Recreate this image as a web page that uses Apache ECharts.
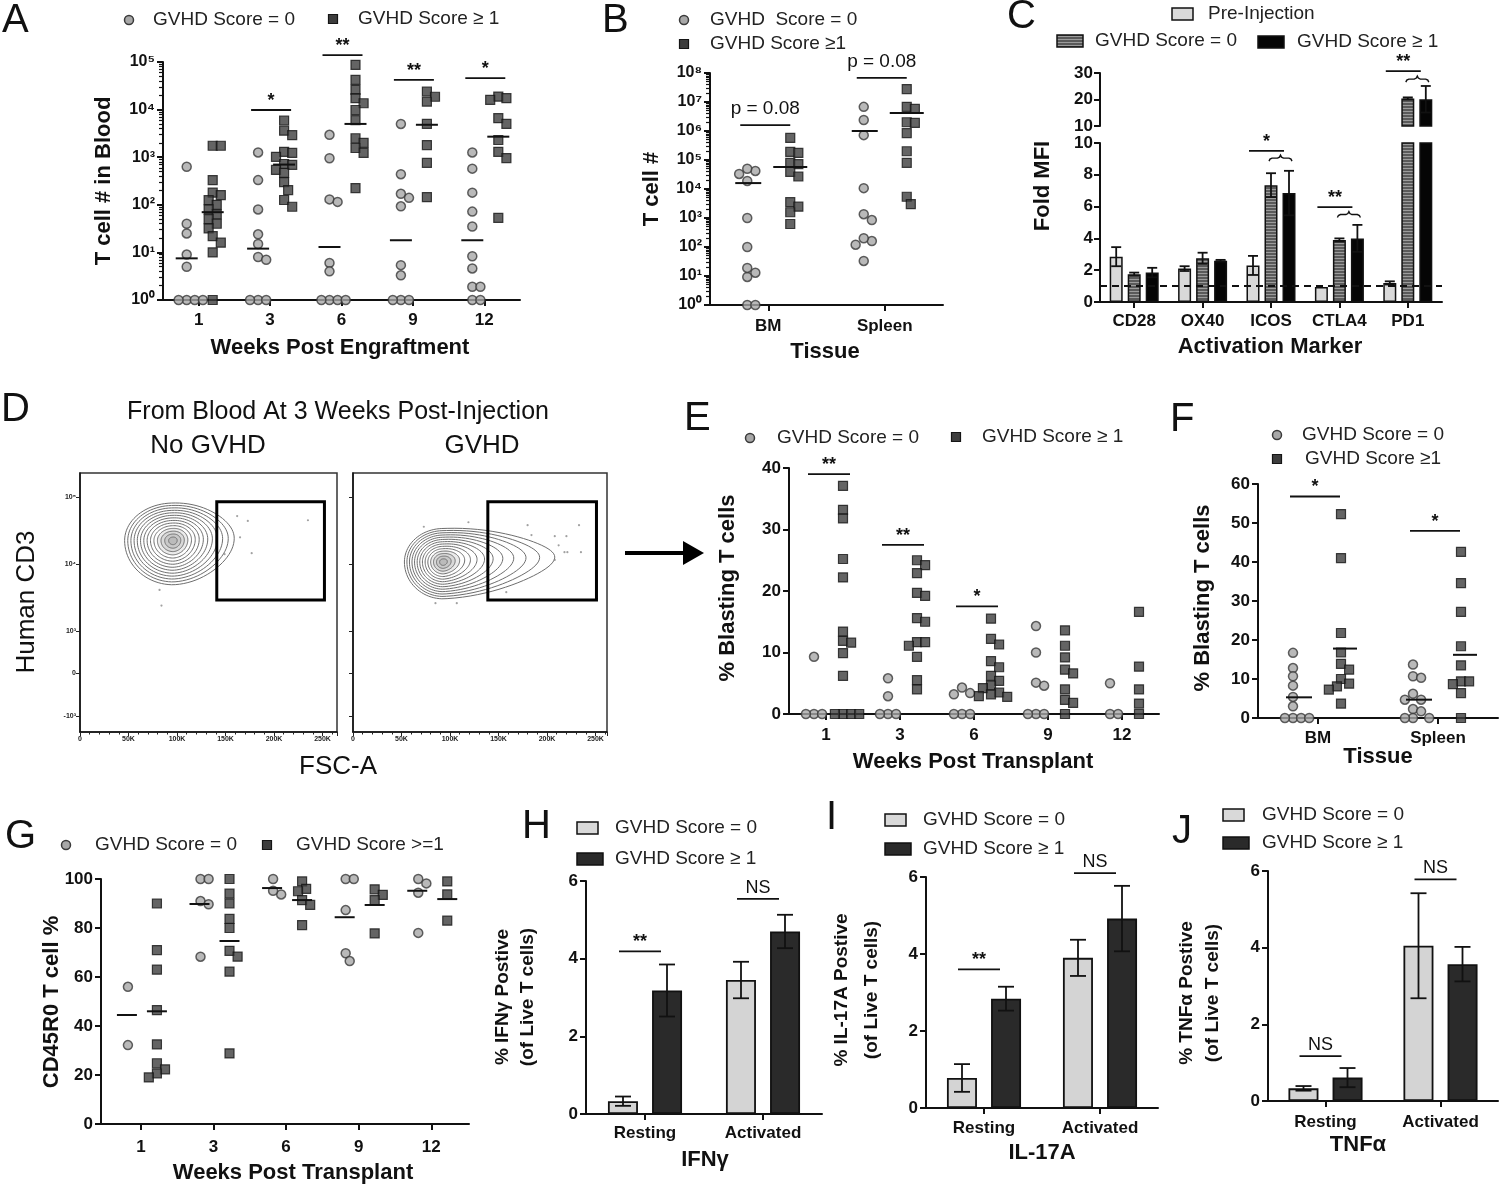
<!DOCTYPE html>
<html><head><meta charset="utf-8">
<script src="https://cdn.jsdelivr.net/npm/echarts@6/dist/echarts.min.js"></script>
<style>html,body{margin:0;padding:0;background:#fff}#c{width:1500px;height:1191px}</style>
</head><body><div id="c"></div>
<script>
// ================= DATA =================
const weekLabels = ['1', '3', '6', '9', '12'];
const tissueLabels = ['BM', 'Spleen'];
const markerLabels = ['CD28', 'OX40', 'ICOS', 'CTLA4', 'PD1'];
const stateLabels = ['Resting', 'Activated'];

// A: T cell # in blood (0 plotted at 10^0)
const aScore0 = [
  [630, 40, 25, 9, 5, 1, 1, 1, 1],
  [1260, 330, 80, 24, 15, 8, 7, 1, 1, 1],
  [2950, 950, 130, 115, 6, 4, 1, 1, 1, 1],
  [5000, 440, 170, 140, 93, 5.4, 3.3, 1, 1, 1],
  [1260, 575, 180, 72, 35, 8.3, 4.6, 1.9, 1.9, 1, 1]
];
const aScore1 = [
  [1740, 1740, 330, 180, 160, 125, 100, 80, 63, 50, 40, 32, 22, 16, 10, 1],
  [5900, 3600, 2900, 1300, 1230, 1020, 720, 690, 540, 470, 300, 204, 126, 91],
  [87000, 42000, 26000, 17500, 13600, 9800, 6000, 2500, 2000, 1560, 1230, 225],
  [24000, 18600, 14700, 5000, 1800, 760, 145],
  [18700, 17400, 16000, 6600, 5000, 2300, 1300, 960, 53]
];
const aMean0 = [7.5, 12, 13, 18, 18];
const aMean1 = [70, 700, 5000, 4800, 2700];
const aSig = [[1, 9800, '*'], [2, 140000, '**'], [3, 42000, '**'], [4, 46000, '*']];

// B: T cell # by tissue
const bScore0 = [
  [42000, 50000, 33000, 19000, 1000, 100, 13, 9.3, 19, 1, 1],
  [6800000, 2400000, 720000, 10700, 1350, 850, 160, 200, 120, 33]
];
const bScore1 = [
  [575000, 190000, 175000, 80000, 72000, 39000, 27000, 3500, 2450, 1580, 620],
  [28000000, 6800000, 5750000, 2000000, 1900000, 850000, 200000, 80000, 5400, 3000]
];
const bMean0 = [16000, 1000000];
const bMean1 = [57000, 4200000];
const bSig = [[0, 1600000, 'p = 0.08'], [1, 68000000, 'p = 0.08']];

// C: fold MFI of activation markers
const cPre = [2.85, 2.1, 2.3, 0.95, 1.2];
const cPreErr = [0.6, 0.15, 0.6, 0, 0.1];
const cScore0 = [1.75, 2.75, 7.35, 3.9, 20.4];
const cScore0Err = [0.1, 0.35, 0.75, 0.1, 0.4];
const cScore1 = [1.85, 2.6, 6.85, 4.0, 20.1];
const cScore1Err = [0.3, 0.05, 1.4, 0.85, 5.0];
const cBaseline = 1;
const cSig = [[2, 9.5, 9.05, '*'], [3, 5.97, 5.5, '**'], [4, 30.7, 27.7, '**']]; // [marker, bar, brace, label]

// D: flow cytometry (FSC in K, CD3 raw)
const dCd3Ticks = [-1000, 0, 1000, 10000, 100000];
const dCd3TickLabels = ['-10³', '0', '10³', '10⁴', '10⁵'];
// population: [FSC centre, log10 CD3 centre, FSC spread left, FSC spread right, right tail, decades up, decades down]
const dPopNoGvhd = [96, 4.35, 50, 45, 18, 0.56, 0.66];
const dPopGvhd = [93, 4.03, 40, 45, 70, 0.5, 0.55];
const dEventsNoGvhd = [[162, 52000], [173, 44000], [165, 25000], [149, 14000], [177, 14500], [235, 45000], [82, 4100], [84, 2400]];
const dEventsGvhd = [[119, 42000], [73, 36000], [180, 38000], [208, 26000], [220, 26000], [233, 38000], [212, 19000], [218, 15000], [235, 15000], [208, 11500], [158, 3800], [85, 2600], [107, 2600], [184, 27000], [221, 15000]];
const dGates = [[141, 252, 2900, 85000], [139, 251, 2900, 85000]];

// E: % blasting T cells in blood
const eScore0 = [[9.3, 0, 0, 0], [5.8, 2.9, 0, 0, 0], [4.3, 3.2, 3.4, 0, 0, 0], [14.3, 10, 5.1, 4.6, 0, 0, 0], [5.0, 0, 0]];
const eScore1 = [
  [37.1, 33.2, 31.8, 25.2, 22.2, 13.4, 11.9, 11.6, 9.9, 6.2, 0, 0, 0, 0],
  [25, 24.2, 22.9, 19.7, 19.2, 15.6, 15, 11.7, 11.7, 11.1, 9.3, 5.5, 4.0],
  [15.5, 12.2, 11.3, 8.6, 7.6, 6.2, 5.4, 4.6, 4.2, 3.5, 3.2, 2.9, 2.8],
  [13.6, 11.1, 9.2, 7.2, 6.6, 4.0, 2.3, 1.8, 0],
  [16.6, 7.7, 4.0, 1.7, 0]
];
const eSig = [[0, 39, '**'], [1, 27.5, '**'], [2, 17.5, '*']];

// F: % blasting T cells by tissue
const fScore0 = [[16.7, 12.8, 10.7, 8.3, 5.4, 3.0, 0, 0, 0, 0], [13.7, 10.7, 10.3, 6.2, 4.7, 4.7, 2.3, 1.7, 0, 0, 0]];
const fScore1 = [[52.3, 41, 21.8, 16.8, 13.9, 12.4, 10, 8.8, 8.1, 7.3, 3.7], [42.6, 34.6, 27.2, 18.4, 13.5, 9.4, 9.4, 8.7, 6.4, 0]];
const fMean0 = [5.3, 4.7];
const fMean1 = [17.8, 16.2];
const fSig = [[0, 56.8, '*'], [1, 48, '*']];

// G: CD45R0 T cell %
const gScore0 = [[56, 32.2], [100, 100, 91, 89.7, 68.3], [100, 93.7, 95.2], [100, 100, 87.3, 69.7, 66.5], [100, 98.2, 94.4, 78]];
const gScore1 = [[90, 71, 63, 46.5, 32.5, 24.8, 22.3, 20.7, 19], [100, 94, 90, 83.7, 80, 70.7, 68.3, 62.2, 28.8], [99, 96, 95, 91.4, 89.4, 81.2], [95.8, 93.5, 91.4, 77.8], [99, 93.7, 83]];
const gMean0 = [44.5, 89.8, 96.3, 84.4, 95.2];
const gMean1 = [46, 74.7, 91.4, 89.4, 91.8];

// H, I, J: cytokine positive %
const hScore0 = [0.33, 3.45], hScore0Err = [0.12, 0.47], hScore1 = [3.18, 4.7], hScore1Err = [0.67, 0.43];
const hSig = [[0, 4.19, '**'], [1, 5.54, 'NS']];
const iScore0 = [0.78, 3.9], iScore0Err = [0.36, 0.47], iScore1 = [2.84, 4.92], iScore1Err = [0.31, 0.85];
const iSig = [[0, 3.6, '**'], [1, 6.1, 'NS']];
const jScore0 = [0.33, 4.05], jScore0Err = [0.06, 1.37], jScore1 = [0.61, 3.57], jScore1Err = [0.25, 0.45];
const jSig = [[0, 1.17, 'NS'], [1, 5.78, 'NS']];

// ================= BUILD =================
const FONT = "'Liberation Sans', Arial, Helvetica, sans-serif";
const INK = '#111';
const SUP = ['⁰', '¹', '²', '³', '⁴', '⁵', '⁶', '⁷', '⁸', '⁹'];
const lg = v => Math.log10(Math.max(v, 1));
const lin = v => v;
function cd3T(v) {
  if (v >= 1000) return 101 + (Math.log10(v) - 3) * 67;
  if (v <= -1000) return 16 - (Math.log10(-v) - 3) * 67;
  return 59 + v / 1000 * 42.5;
}

const grids = [], xAxis = [], yAxis = [], series = [], graphic = [];

function panel(box, xCfg, yCfg, frame) {
  const gi = grids.length;
  const g = Object.assign({outerBoundsMode: 'none', containLabel: false}, box);
  if (frame) Object.assign(g, {show: true, borderColor: '#333', borderWidth: 1.5, backgroundColor: 'rgba(0,0,0,0)'});
  grids.push(g);
  const xi = xAxis.length; xAxis.push(Object.assign({gridIndex: gi}, xCfg));
  const yi = yAxis.length; yAxis.push(Object.assign({gridIndex: gi, position: 'left'}, yCfg));
  return {gi, xi, yi, box};
}
const lineAx = w => ({show: true, onZero: false, lineStyle: {color: INK, width: w || 2}});
const tickAx = (len, w) => ({show: true, length: len || 6, lineStyle: {color: INK, width: w || 2}});
const labAx = (margin, fs) => ({show: true, margin, color: INK, fontFamily: FONT, fontWeight: 'bold', fontSize: fs || 17});

function catValX(labels, margin, min, max) {
  const t = labels.map((_, i) => i);
  return {type: 'value', min: min, max: max, axisLine: lineAx(2),
    axisTick: Object.assign(tickAx(6), {customValues: t}),
    axisLabel: Object.assign(labAx(margin), {customValues: t, formatter: v => labels[Math.round(v)]}),
    splitLine: {show: false}};
}
function linY(min, max, interval, margin) {
  return {type: 'value', min, max, interval, axisLine: lineAx(2), axisTick: tickAx(6), axisLabel: labAx(margin), splitLine: {show: false}};
}
function logY(maxExp, margin) {
  return {type: 'value', min: 0, max: maxExp, interval: 1, axisLine: lineAx(2), axisTick: tickAx(6),
    axisLabel: Object.assign(labAx(margin, 16), {formatter: v => '10' + SUP[Math.round(v)]}), splitLine: {show: false}};
}
function addMinorLog(p, maxExp) {
  const vals = [];
  for (let e = 0; e < maxExp; e++) for (let k = 2; k <= 9; k++) vals.push(e + Math.log10(k));
  yAxis.push({gridIndex: p.gi, type: 'value', position: 'left', offset: 0, min: 0, max: maxExp,
    axisLine: {show: false, onZero: false},
    axisLabel: {show: false}, splitLine: {show: false},
    axisTick: {show: true, length: 4, customValues: vals, lineStyle: {color: INK, width: 1.2}}});
}

function swarm(vals, cat, offPx, box, xr, yr, tf, d) {
  const ppx = box.width / (xr[1] - xr[0]), ppy = box.height / (yr[1] - yr[0]);
  const items = vals.map(v => ({v, yp: tf(v) * ppy}));
  const order = items.slice().sort((a, b) => b.yp - a.yp);
  const placed = [], minD = d * 0.9, step = d * 0.45;
  for (const it of order) {
    let best = 0;
    outer: for (let k = 0; k < 60; k++) {
      const cands = k === 0 ? [0] : [k * step, -k * step];
      for (const cx of cands) {
        if (placed.every(p => Math.hypot(p.xp - cx, p.yp - it.yp) >= minD)) { best = cx; break outer; }
      }
    }
    it.xp = best; placed.push(it);
  }
  return items.map(it => [cat + (offPx + it.xp) / ppx, tf(it.v)]);
}
function dots(p, data, kind, size) {
  series.push({type: 'scatter', xAxisIndex: p.xi, yAxisIndex: p.yi, data, symbol: kind === 'c' ? 'circle' : 'rect',
    symbolSize: size || 9, silent: true, z: 3,
    itemStyle: kind === 'c' ? {color: '#a8a8a8', borderColor: '#3a3a3a', borderWidth: 1.5} : {color: '#3d3d3d', borderColor: '#151515', borderWidth: 1.2}});
}
function groupDots(p, groups, kind, offPx, xr, yr, tf) {
  let all = [];
  groups.forEach((vals, i) => { all = all.concat(swarm(vals, i, offPx, p.box, xr, yr, tf, 9)); });
  dots(p, all, kind);
}
function means(p, vals, offPx, hw, tf) {
  series.push({type: 'custom', xAxisIndex: p.xi, yAxisIndex: p.yi, silent: true, z: 5,
    data: vals.map((v, i) => [i, tf(v)]),
    renderItem: (params, api) => {
      const c = api.coord([api.value(0), api.value(1)]); const x = c[0] + offPx;
      return {type: 'line', shape: {x1: x - hw, y1: c[1], x2: x + hw, y2: c[1]}, style: {stroke: INK, lineWidth: 2}};
    }});
}
function sigs(p, arr, tf, hw, dx, font, gap) {
  series.push({type: 'custom', xAxisIndex: p.xi, yAxisIndex: p.yi, silent: true, z: 5, clip: false,
    data: arr.map(s => [s[0], tf(s[1])]),
    renderItem: (params, api) => {
      const c = api.coord([api.value(0), api.value(1)]); const x = c[0] + dx;
      const lab = arr[params.dataIndex][2];
      return {type: 'group', children: [
        {type: 'line', shape: {x1: x - hw, y1: c[1], x2: x + hw, y2: c[1]}, style: {stroke: INK, lineWidth: 1.8}},
        {type: 'text', x: x, y: c[1] - gap, style: {text: lab, font, fill: INK, align: 'center', textAlign: 'center', verticalAlign: 'middle', textVerticalAlign: 'middle'}}
      ]};
    }});
}
function bars(p, vals, itemStyle, width, gap) {
  series.push({type: 'bar', xAxisIndex: p.xi, yAxisIndex: p.yi, data: vals, barWidth: width, barGap: gap,
    itemStyle, clip: true, silent: true, z: 2});
}
function errs(p, vals, errsArr, offPx, capHw, filterFn) {
  const data = [];
  vals.forEach((v, i) => { if (v !== '-' && errsArr[i] > 0 && (!filterFn || filterFn(i))) data.push([i, v, errsArr[i]]); });
  series.push({type: 'custom', xAxisIndex: p.xi, yAxisIndex: p.yi, silent: true, z: 4, clip: true, data,
    renderItem: (params, api) => {
      const c = api.value(0), v = api.value(1), e = api.value(2);
      const t = api.coord([c, v + e]), b = api.coord([c, v - e]); const x = t[0] + offPx;
      const st = {stroke: INK, lineWidth: 1.8};
      return {type: 'group', children: [
        {type: 'line', shape: {x1: x, y1: t[1], x2: x, y2: b[1]}, style: st},
        {type: 'line', shape: {x1: x - capHw, y1: t[1], x2: x + capHw, y2: t[1]}, style: st},
        {type: 'line', shape: {x1: x - capHw, y1: b[1], x2: x + capHw, y2: b[1]}, style: st}]};
    }});
}

// hatched fill
const pc = document.createElement('canvas'); pc.width = 4; pc.height = 3;
const pctx = pc.getContext('2d'); pctx.fillStyle = '#5a5a5a'; pctx.fillRect(0, 0, 4, 3);
pctx.fillStyle = '#9c9c9c'; pctx.fillRect(0, 0, 4, 1);
const HATCH = {image: pc, repeat: 'repeat'};

// ---------- Panel A ----------
const boxA = {left: 163, top: 62, width: 357, height: 238};
const pA = panel(boxA, catValX(weekLabels, 12, -0.5, 4.5), logY(5, 8));
addMinorLog(pA, 5);
groupDots(pA, aScore0, 'c', -12, [-0.5, 4.5], [0, 5], lg);
groupDots(pA, aScore1, 's', 14, [-0.5, 4.5], [0, 5], lg);
means(pA, aMean0, -12, 11, lg); means(pA, aMean1, 14, 11, lg);
sigs(pA, aSig, lg, 20, 1, 'bold 18px ' + FONT, 9);

// ---------- Panel B ----------
const boxB = {left: 710, top: 73, width: 233, height: 232};
const pB = panel(boxB, catValX(tissueLabels, 13, -0.5, 1.5), logY(8, 8));
addMinorLog(pB, 8);
groupDots(pB, bScore0, 'c', -21, [-0.5, 1.5], [0, 8], lg);
groupDots(pB, bScore1, 's', 22, [-0.5, 1.5], [0, 8], lg);
means(pB, bMean0, -20, 13, lg); means(pB, bMean1, 22, 17, lg);
sigs(pB, bSig, lg, 25, -3, 'normal 19px ' + FONT, 16);

// ---------- Panel C ----------
const boxCl = {left: 1100, top: 143, width: 342, height: 159};
const boxCu = {left: 1100, top: 73, width: 342, height: 53};
const pCl = panel(boxCl, {type: 'category', data: markerLabels, axisLine: lineAx(2),
  axisTick: {show: true, alignWithLabel: true, length: 6, lineStyle: {color: INK, width: 2}},
  axisLabel: Object.assign(labAx(11), {interval: 0})}, linY(0, 10, 2, 7));
const pCu = panel(boxCu, {type: 'category', data: markerLabels, show: false}, linY(10, 30, 10, 7));
const preStyle = {color: '#d9d9d9', borderColor: INK, borderWidth: 1.5};
const s0Style = {color: HATCH, borderColor: INK, borderWidth: 1.5};
const s1Style = {color: '#050505', borderColor: INK, borderWidth: 1.5};
bars(pCl, cPre, preStyle, 13, '38.5%');
series[series.length - 1].markLine = {silent: true, symbol: 'none', label: {show: false}, animation: false, z: 6,
  lineStyle: {type: [7, 5], color: INK, width: 2}, data: [{yAxis: cBaseline}]};
bars(pCl, cScore0, s0Style, 13, '38.5%');
bars(pCl, cScore1, s1Style, 13, '38.5%');
const upper = arr => arr.map(v => v > 10 ? v : '-');
bars(pCu, upper(cPre), preStyle, 13, '38.5%');
bars(pCu, upper(cScore0), s0Style, 13, '38.5%');
bars(pCu, upper(cScore1), s1Style, 13, '38.5%');
errs(pCl, cPre, cPreErr, -18, 5); errs(pCl, cScore0, cScore0Err, 0, 5, i => cScore0[i] < 10); errs(pCl, cScore1, cScore1Err, 18, 5, i => cScore1[i] < 10);
errs(pCu, cScore0, cScore0Err, 0, 5, i => cScore0[i] > 10); errs(pCu, cScore1, cScore1Err, 18, 5, i => cScore1[i] > 10);
function cSigSeries(p, arr) {
  series.push({type: 'custom', xAxisIndex: p.xi, yAxisIndex: p.yi, silent: true, z: 5, clip: false,
    data: arr.map(s => [s[0], s[1], s[2]]),
    renderItem: (params, api) => {
      const cat = api.value(0); const a = api.coord([cat, api.value(1)]); const b = api.coord([cat, api.value(2)]);
      const lab = arr[params.dataIndex][3];
      const x1 = a[0] - 22, x2 = a[0] + 13, y = a[1];
      const bx1 = a[0] - 2, bx2 = a[0] + 21, bm = (bx1 + bx2) / 2, by = b[1];
      const pts = [[bx1, by + 3], [bx1 + 1, by + 1], [bx1 + 3, by], [bm - 3, by], [bm - 1, by - 1], [bm, by - 3],
        [bm + 1, by - 1], [bm + 3, by], [bx2 - 3, by], [bx2 - 1, by + 1], [bx2, by + 3]];
      return {type: 'group', children: [
        {type: 'line', shape: {x1, y1: y, x2, y2: y}, style: {stroke: INK, lineWidth: 1.8}},
        {type: 'polyline', shape: {points: pts}, style: {stroke: INK, lineWidth: 1.4, fill: 'none'}},
        {type: 'text', x: (x1 + x2) / 2, y: y - 9, style: {text: lab, font: 'bold 18px ' + FONT, fill: INK, align: 'center', textAlign: 'center', verticalAlign: 'middle', textVerticalAlign: 'middle'}}
      ]};
    }});
}
cSigSeries(pCl, cSig.filter(s => s[1] <= 10));
cSigSeries(pCu, cSig.filter(s => s[1] > 10));

// ---------- Panel D ----------
const dT = dCd3Ticks.map(cd3T);
function dPanel(box, showLabels) {
  return panel(box, {type: 'value', min: 0, max: box.width / 0.97, interval: 50, axisLine: lineAx(1.5),
    axisTick: {show: true, length: 4, lineStyle: {color: '#222', width: 1}},
    minorTick: {show: true, splitNumber: 5, length: 2.5, lineStyle: {color: '#222', width: 1}},
    axisLabel: {show: true, showMaxLabel: false, margin: 4, fontSize: 7, fontWeight: 'bold', color: '#222', fontFamily: FONT, formatter: v => v === 0 ? '0' : v + 'K'},
    splitLine: {show: false}},
  {type: 'value', min: 0, max: 259, axisLine: lineAx(1.5),
    axisTick: {show: true, length: 4, customValues: dT, lineStyle: {color: '#222', width: 1}},
    axisLabel: {show: showLabels, customValues: dT, margin: 4, fontSize: 7, fontWeight: 'bold', color: '#222', fontFamily: FONT,
      formatter: v => { let bi = 0; dT.forEach((t, i) => { if (Math.abs(t - v) < Math.abs(dT[bi] - v)) bi = i; }); return dCd3TickLabels[bi]; }},
    splitLine: {show: false}}, true);
}
const pDl = dPanel({left: 80, top: 473, width: 257, height: 259}, true);
const pDr = dPanel({left: 353, top: 473, width: 254, height: 259}, false);
function contour(p, pop) {
  series.push({type: 'custom', xAxisIndex: p.xi, yAxisIndex: p.yi, silent: true, z: 2, clip: true, data: [[pop[0], cd3T(Math.pow(10, pop[1]))]],
    renderItem: (params, api) => {
      const [cx, cy, L, R, tail, up, down] = pop; const n = 14; const children = [];
      for (let k = 0; k < n; k++) {
        const f = Math.pow((n - k) / n, 0.9); const pts = [];
        for (let a = 0; a <= 90; a++) {
          const th = a / 90 * 2 * Math.PI, co = Math.cos(th), si = Math.sin(th);
          const rx = co < 0 ? L * f : (R * f + tail * Math.pow(f, 3));
          const ry = si > 0 ? up * f : down * f;
          const pinch = co > 0 ? (1 - 0.45 * Math.pow(co, 2) * Math.pow(f, 2) * (tail / (tail + R))) : 1;
          const fsc = cx + rx * co; const lv = cy + ry * si * pinch + (co > 0 ? 0.12 * co * f * (tail / (tail + R)) : 0);
          pts.push(api.coord([fsc, cd3T(Math.pow(10, lv))]));
        }
        children.push({type: 'polygon', shape: {points: pts}, style: {fill: k > n - 5 ? 'rgba(90,90,90,0.12)' : 'none', stroke: '#6e6e6e', lineWidth: 1}});
      }
      return {type: 'group', children};
    }});
}
contour(pDl, dPopNoGvhd); contour(pDr, dPopGvhd);
function events(p, arr) {
  series.push({type: 'scatter', xAxisIndex: p.xi, yAxisIndex: p.yi, silent: true, symbolSize: 2.2, z: 2,
    itemStyle: {color: '#8a8a8a'}, data: arr.map(e => [e[0], cd3T(e[1])])});
}
events(pDl, dEventsNoGvhd); events(pDr, dEventsGvhd);
function gate(p, g) {
  series.push({type: 'custom', xAxisIndex: p.xi, yAxisIndex: p.yi, silent: true, z: 4, data: [[g[0], cd3T(g[2])]],
    renderItem: (params, api) => {
      const a = api.coord([g[0], cd3T(g[3])]), b = api.coord([g[1], cd3T(g[2])]);
      return {type: 'rect', shape: {x: a[0], y: a[1], width: b[0] - a[0], height: b[1] - a[1]}, style: {fill: 'none', stroke: '#000', lineWidth: 3}};
    }});
}
gate(pDl, dGates[0]); gate(pDr, dGates[1]);

// ---------- Panel E ----------
const boxE = {left: 789, top: 468, width: 370, height: 246};
const pE = panel(boxE, catValX(weekLabels, 13, -0.5, 4.5), linY(0, 40, 10, 8));
groupDots(pE, eScore0, 'c', -12, [-0.5, 4.5], [0, 40], lin);
groupDots(pE, eScore1, 's', 17, [-0.5, 4.5], [0, 40], lin);
sigs(pE, eSig, lin, 21, 3, 'bold 18px ' + FONT, 9);

// ---------- Panel F ----------
const boxF = {left: 1258, top: 484, width: 240, height: 234};
const pF = panel(boxF, catValX(tissueLabels, 12, -0.5, 1.5), linY(0, 60, 10, 8));
groupDots(pF, fScore0, 'c', -25, [-0.5, 1.5], [0, 60], lin);
groupDots(pF, fScore1, 's', 23, [-0.5, 1.5], [0, 60], lin);
means(pF, fMean0, -19, 13, lin); means(pF, fMean1, 27, 12, lin);
sigs(pF, fSig, lin, 25, -3, 'bold 18px ' + FONT, 9);

// ---------- Panel G ----------
const boxG = {left: 101, top: 879, width: 368, height: 245};
const pG = panel(boxG, catValX(weekLabels, 15, -0.55, 4.52), linY(0, 100, 20, 8));
groupDots(pG, gScore0, 'c', -13, [-0.55, 4.52], [0, 100], lin);
groupDots(pG, gScore1, 's', 16, [-0.55, 4.52], [0, 100], lin);
means(pG, gMean0, -14, 10, lin); means(pG, gMean1, 16, 10, lin);

// ---------- Panels H, I, J ----------
function cytokine(box, s0, e0, s1, e1, sg, margin) {
  const p = panel(box, {type: 'category', data: stateLabels, axisLine: lineAx(2),
    axisTick: {show: true, alignWithLabel: true, length: 6, lineStyle: {color: INK, width: 2}},
    axisLabel: Object.assign(labAx(margin), {interval: 0})},
    linY(0, 6, 2, 8));
  bars(p, s0, {color: '#d4d4d4', borderColor: INK, borderWidth: 1.8}, 30, '47%');
  bars(p, s1, {color: '#2a2a2a', borderColor: INK, borderWidth: 1.8}, 30, '47%');
  errs(p, s0, e0, -22, 8); errs(p, s1, e1, 22, 8);
  sigs(p, sg.filter(s => s[2] === '**'), lin, 21, -5, 'bold 18px ' + FONT, 9);
  sigs(p, sg.filter(s => s[2] !== '**'), lin, 21, -5, 'normal 18px ' + FONT, 11);
  return p;
}
cytokine({left: 586, top: 881, width: 236, height: 233}, hScore0, hScore0Err, hScore1, hScore1Err, hSig, 11);
cytokine({left: 926, top: 877, width: 232, height: 231}, iScore0, iScore0Err, iScore1, iScore1Err, iSig, 12);
cytokine({left: 1268, top: 871, width: 230, height: 230}, jScore0, jScore0Err, jScore1, jScore1Err, jSig, 13);

// ================= TEXT / LEGENDS =================
function txt(x, y, text, font, opt) {
  opt = opt || {};
  graphic.push({type: 'text', x, y, rotation: opt.rot || 0, silent: true, z: 10,
    style: {text, font, fill: opt.color || INK, align: opt.align || 'left', textAlign: opt.align || 'left',
      verticalAlign: 'middle', textVerticalAlign: 'middle'}});
}
const TITLE = 'bold 22px ' + FONT, LEG = 'normal 19px ' + FONT, LETTER = 'normal 40px ' + FONT;
const ytitle = (x, y, t, f) => txt(x, y, t, f || TITLE, {rot: Math.PI / 2, align: 'center'});
const xtitle = (x, y, t) => txt(x, y, t, TITLE, {align: 'center'});

[['A', 2, 21], ['B', 602, 21], ['C', 1007, 17], ['D', 1, 410], ['E', 684, 419], ['F', 1170, 420],
 ['G', 5, 837], ['H', 522, 827], ['I', 826, 818], ['J', 1172, 832]].forEach(l => txt(l[1], l[2], l[0], LETTER));

function legendItem(kind, ix, iy, tx, text) {
  if (kind === 'c') graphic.push({type: 'circle', silent: true, shape: {cx: ix, cy: iy, r: 4.5}, style: {fill: '#a8a8a8', stroke: '#3a3a3a', lineWidth: 1.5}});
  else if (kind === 's') graphic.push({type: 'rect', silent: true, shape: {x: ix - 4.5, y: iy - 4.5, width: 9, height: 9}, style: {fill: '#3d3d3d', stroke: '#151515', lineWidth: 1.2}});
  else {
    const fill = kind === 'bl' ? '#d9d9d9' : kind === 'bh' ? HATCH : kind === 'bk' ? '#050505' : '#2a2a2a';
    const w = kind === 'bl' && tx - ix < 40 ? 21 : 26;
    graphic.push({type: 'rect', silent: true, shape: {x: ix, y: iy - 6, width: w, height: 12}, style: {fill, stroke: INK, lineWidth: 1.5}});
  }
  txt(tx, iy, text, LEG, {color: '#222'});
}
[
  ['c', 129, 20, 153, 'GVHD Score = 0'], ['s', 333, 19, 358, 'GVHD Score ≥ 1'],
  ['c', 684, 20, 710, 'GVHD  Score = 0'], ['s', 684, 44, 710, 'GVHD Score ≥1'],
  ['bl', 1172, 14, 1208, 'Pre-Injection'], ['bh', 1057, 41, 1095, 'GVHD Score = 0'], ['bk', 1258, 42, 1297, 'GVHD Score ≥ 1'],
  ['c', 750, 438, 777, 'GVHD Score = 0'], ['s', 956, 437, 982, 'GVHD Score ≥ 1'],
  ['c', 1277, 435, 1302, 'GVHD Score = 0'], ['s', 1277, 459, 1305, 'GVHD Score ≥1'],
  ['c', 66, 845, 95, 'GVHD Score = 0'], ['s', 267, 845, 296, 'GVHD Score >=1'],
  ['bl', 577, 828, 615, 'GVHD Score = 0'], ['bd', 577, 859, 615, 'GVHD Score ≥ 1'],
  ['bl', 885, 820, 923, 'GVHD Score = 0'], ['bd', 885, 849, 923, 'GVHD Score ≥ 1'],
  ['bl', 1223, 815, 1262, 'GVHD Score = 0'], ['bd', 1223, 843, 1262, 'GVHD Score ≥ 1']
].forEach(l => legendItem(...l));

ytitle(104, 181, 'T cell # in Blood'); xtitle(340, 348, 'Weeks Post Engraftment');
ytitle(652, 189, 'T cell #'); xtitle(825, 352, 'Tissue');
ytitle(1043, 186, 'Fold MFI'); xtitle(1270, 347, 'Activation Marker');
ytitle(728, 588, '% Blasting T cells'); xtitle(973, 762, 'Weeks Post Transplant');
ytitle(1203, 598, '% Blasting T cells'); xtitle(1378, 757, 'Tissue');
ytitle(52, 1002, 'CD45R0 T cell %'); xtitle(293, 1173, 'Weeks Post Transplant');
const Y2 = 'bold 19px ' + FONT;
ytitle(503, 997, '% IFNγ Postive', Y2); ytitle(528, 997, '(of Live T cells)', Y2); xtitle(705, 1160, 'IFNγ');
ytitle(842, 990, '% IL-17A Postive', Y2); ytitle(872, 990, '(of Live T cells)', Y2); xtitle(1042, 1153, 'IL-17A');
ytitle(1187, 993, '% TNFα Postive', Y2); ytitle(1213, 993, '(of Live T cells)', Y2); xtitle(1358, 1145, 'TNFα');

const DF = 'normal 26px ' + FONT;
txt(338, 412, 'From Blood At 3 Weeks Post-Injection', 'normal 25px ' + FONT, {align: 'center'});
txt(208, 446, 'No GVHD', DF, {align: 'center'});
txt(482, 446, 'GVHD', DF, {align: 'center'});
txt(27, 602, 'Human CD3', DF, {rot: Math.PI / 2, align: 'center'});
txt(338, 767, 'FSC-A', DF, {align: 'center'});
// arrow D -> E
graphic.push({type: 'line', silent: true, shape: {x1: 625, y1: 553, x2: 686, y2: 553}, style: {stroke: '#000', lineWidth: 4}});
graphic.push({type: 'polygon', silent: true, shape: {points: [[683, 541], [704, 553], [683, 565]]}, style: {fill: '#000'}});

const chart = echarts.init(document.getElementById('c'), null, {renderer: 'canvas', width: 1500, height: 1191});
chart.setOption({animation: false, backgroundColor: '#fff', grid: grids, xAxis, yAxis, series, graphic});
</script></body></html>
